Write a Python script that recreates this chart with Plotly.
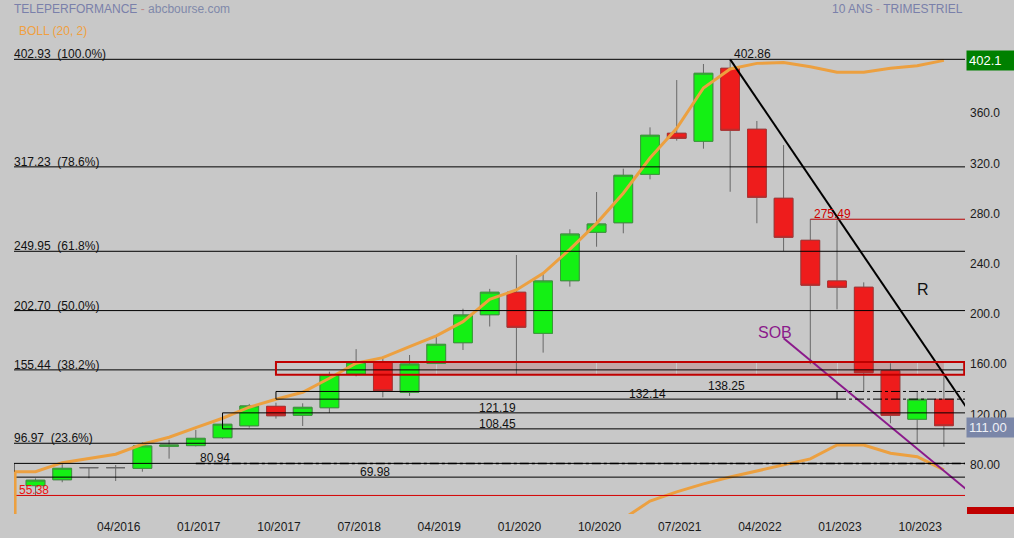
import plotly.graph_objects as go

# ---------------- data ----------------
quarters = ["07/2015", "10/2015", "01/2016", "04/2016", "07/2016", "10/2016",
            "01/2017", "04/2017", "07/2017", "10/2017", "01/2018", "04/2018",
            "07/2018", "10/2018", "01/2019", "04/2019", "07/2019", "10/2019",
            "01/2020", "04/2020", "07/2020", "10/2020", "01/2021", "04/2021",
            "07/2021", "10/2021", "01/2022", "04/2022", "07/2022", "10/2022",
            "01/2023", "04/2023", "07/2023", "10/2023", "01/2024"]

opens = [63.2, 67.9, 77.5, 77.5, 77.0, 94.6, 95.1, 101.4, 110.9, 126.4,
         119.3, 125.3, 152.2, 161.5, 137.6, 160.7, 177.1, 199.4, 217.3, 184.6,
         226.5, 265.1, 272.7, 311.3, 344.0, 337.6, 395.8, 347.2, 292.2, 258.7,
         226.3, 221.3, 154.8, 116.1, 132.0]
highs = [69.0, 81.0, 77.8, 79.6, 97.8, 99.6, 107.6, 114.7, 128.3, 129.3,
         128.8, 154.0, 172.0, 166.0, 167.3, 182.0, 204.2, 220.0, 247.0, 232.4,
         267.5, 297.2, 315.8, 348.7, 386.4, 399.2, 402.86, 353.8, 334.6, 275.49,
         274.5, 225.2, 160.7, 138.1, 151.4]
lows = [55.38, 65.9, 69.1, 66.9, 74.3, 84.7, 94.5, 100.6, 109.4, 116.6,
        110.7, 121.2, 150.3, 133.6, 134.7, 160.0, 171.3, 190.0, 152.2, 169.2,
        221.8, 253.6, 264.3, 307.3, 338.1, 331.7, 297.4, 272.3, 250.2, 160.0,
        203.7, 138.1, 112.9, 96.9, 94.3]
closes = [67.5, 77.0, 77.5, 77.5, 94.8, 95.5, 100.9, 112.1, 126.7, 118.9,
          125.6, 151.6, 161.5, 138.9, 160.1, 175.8, 199.2, 217.3, 189.4, 226.3,
          263.7, 271.7, 310.5, 342.4, 340.0, 391.8, 346.4, 293.0, 261.1, 222.9,
          221.3, 153.2, 119.3, 132.0, 111.0]

# Bollinger (20, 2) upper band, first value is the quarter before the window
boll_upper = [74.3, 74.3, 81.5, 84.9, 88.2, 96.2, 101.8, 109.4, 116.9, 125.7,
              132.0, 137.6, 148.8, 160.7, 165.2, 174.0, 182.5, 193.9, 211.7, 219.1,
              232.4, 251.5, 272.2, 296.2, 324.3, 347.9, 380.1, 395.2, 399.7, 400.4,
              397.0, 392.6, 392.6, 395.8, 397.8, 402.1]
# lower band (only the visible part, from 01/2021)
boll_lower_start = 22
boll_lower = [36.7, 50.9, 58.2, 64.6, 70.1, 75.0, 79.7, 84.5, 95.6, 95.6,
              89.0, 86.3, 75.7]

fib_levels = [402.93, 317.23, 249.95, 202.70, 155.44, 96.97]
fib_pcts = ["100.0%", "78.6%", "61.8%", "50.0%", "38.2%", "23.6%"]

low_mark = 55.38
high_mark = 402.86
res_mark = 275.49
zone_a = (69.98, 80.94)
zone_b = (108.45, 121.19)
zone_c = (132.14, 138.25)
red_zone = (151.6, 161.7)
last_price = 111.00
upper_tag = 402.1

# trend lines: (index, value) anchors
trend_R = [(26, 402.86), (34, 152.0)]
trend_SOB = [(28, 180.6), (34, 75.0)]

y_ticks = [80, 120, 160, 200, 240, 280, 320, 360]
y_ticktext = ["80.00", "120.00", "160.00", "200.0", "240.0", "280.0", "320.0", "360.0"]

# ---------------- layout helpers ----------------
W, H = 1014, 538
ML, MR, MT, MB = 14, 49, 0, 24
PW, PH = W - ML - MR, H - MT - MB
XMIN, XMAX = -0.805, 34.79
YMIN, YMAX = 40.6, 450.2
FONT = "Liberation Sans, Arial, sans-serif"
BG = "#c8c8c8"
ORANGE = "rgb(236,160,64)"


def px(xp):
    return (xp - ML) / PW


def py(yp):
    return (MT + PH - yp) / PH


x = list(range(len(quarters)))

fig = go.Figure()

# wicks (grey) + body
fig.add_trace(go.Candlestick(
    x=x, open=opens, high=highs, low=lows, close=closes,
    increasing=dict(line=dict(color="#686868", width=1), fillcolor="#14f014"),
    decreasing=dict(line=dict(color="#686868", width=1), fillcolor="#ee1c1c"),
    whiskerwidth=0, hoverinfo="skip"))

# coloured body outlines
b_open, b_close, b_hi, b_lo = [], [], [], []
for o, c in zip(opens, closes):
    if o == c:
        b_open.append(None); b_close.append(None); b_hi.append(None); b_lo.append(None)
    else:
        b_open.append(o); b_close.append(c); b_hi.append(max(o, c)); b_lo.append(min(o, c))
fig.add_trace(go.Candlestick(
    x=x, open=b_open, high=b_hi, low=b_lo, close=b_close,
    increasing=dict(line=dict(color="#3a9a3a", width=1), fillcolor="#14f014"),
    decreasing=dict(line=dict(color="#b03030", width=1), fillcolor="#ee1c1c"),
    whiskerwidth=0, hoverinfo="skip"))

# Bollinger bands
fig.add_trace(go.Scatter(x=[-1] + x, y=boll_upper, mode="lines",
                         line=dict(color=ORANGE, width=3), hoverinfo="skip"))
fig.add_trace(go.Scatter(x=list(range(boll_lower_start, boll_lower_start + len(boll_lower))),
                         y=boll_lower, mode="lines",
                         line=dict(color=ORANGE, width=3), hoverinfo="skip"))


def extend(p, xe):
    (x0, y0), (x1, y1) = p
    return [x0, xe], [y0, y0 + (y1 - y0) / (x1 - x0) * (xe - x0)]


rx, ry = extend(trend_R, 37)
fig.add_trace(go.Scatter(x=rx, y=ry, mode="lines", line=dict(color="black", width=2), hoverinfo="skip"))
sx, sy = extend(trend_SOB, 37)
fig.add_trace(go.Scatter(x=sx, y=sy, mode="lines", line=dict(color="#8b1a8b", width=2), hoverinfo="skip"))

shapes = []
# pink zone fill
shapes.append(dict(type="rect", xref="x", yref="y", x0=12, x1=34, y0=red_zone[0], y1=red_zone[1],
                   fillcolor="rgba(185,115,115,0.4)", line=dict(width=0), layer="below"))
# fib lines
for lv in fib_levels:
    shapes.append(dict(type="line", xref="paper", yref="y", x0=0, x1=1, y0=lv, y1=lv,
                       line=dict(color="black", width=1)))
# low mark line (red)
shapes.append(dict(type="line", xref="paper", yref="y", x0=0, x1=1, y0=low_mark, y1=low_mark,
                   line=dict(color="#d40000", width=1)))
# resistance 275.49
shapes.append(dict(type="line", xref="x", yref="y", x0=29, x1=37, y0=res_mark, y1=res_mark,
                   line=dict(color="#b80000", width=1)))
# zone boxes
shapes.append(dict(type="rect", xref="x", yref="y", x0=XMIN, x1=37, y0=zone_a[0], y1=zone_a[1],
                   line=dict(color="black", width=1)))
shapes.append(dict(type="line", xref="x", yref="y", x0=6, x1=37, y0=zone_a[1], y1=zone_a[1],
                   line=dict(color="black", width=1.5, dash="dashdot")))
shapes.append(dict(type="rect", xref="x", yref="y", x0=7, x1=37, y0=zone_b[0], y1=zone_b[1],
                   line=dict(color="black", width=1)))
shapes.append(dict(type="rect", xref="x", yref="y", x0=9, x1=30, y0=zone_c[0], y1=zone_c[1],
                   line=dict(color="black", width=1)))
for lv in zone_c:
    shapes.append(dict(type="line", xref="x", yref="y", x0=30, x1=37, y0=lv, y1=lv,
                       line=dict(color="black", width=1, dash="dashdot")))
shapes.append(dict(type="rect", xref="x", yref="y", x0=9, x1=XMAX - 0.03, y0=red_zone[0], y1=red_zone[1],
                   line=dict(color="#c00000", width=2)))
# band start at left edge
shapes.append(dict(type="line", xref="x", yref="y", x0=XMIN + 0.04, x1=XMIN + 0.04, y0=boll_upper[0], y1=YMIN,
                   line=dict(color=ORANGE, width=3)))
# red tag at bottom right (cut off)
shapes.append(dict(type="rect", xref="paper", yref="paper", x0=px(967), x1=px(1014), y0=py(514), y1=py(507),
                   fillcolor="#c00000", line=dict(width=0)))

ann = []


def text(xp, yp, s, color="#111111", size=12, xanchor="left", **kw):
    ann.append(dict(xref="paper", yref="paper", x=px(xp), y=py(yp), text=s, showarrow=False,
                    xanchor=xanchor, yanchor="middle", font=dict(family=FONT, size=size, color=color), **kw))


def label(xv, yv, s, color="#111111", xanchor="left", xshift=0):
    ann.append(dict(xref="x", yref="y", x=xv, y=yv, text=s, showarrow=False, xanchor=xanchor,
                    yanchor="bottom", xshift=xshift, yshift=-4,
                    font=dict(family=FONT, size=12, color=color)))


text(12, 9, "<span style='color:#7a80aa'>TELEPERFORMANCE</span><span style='color:#c08a8a'> - </span>"
            "<span style='color:#8088aa'>abcbourse.com</span>")
text(17, 31, "BOLL (20, 2)", color="#f0a040")
text(965, 9, "<span style='color:#7a80aa'>10 ANS </span><span style='color:#c08a8a'>-</span>"
             "<span style='color:#7a80aa'> TRIMESTRIEL</span>", xanchor="right")

for lv, pc in zip(fib_levels, fib_pcts):
    label(XMIN, lv, f"{lv:.2f}\u00a0 ({pc})", xshift=-2)

label(26, high_mark, f"{high_mark:.2f}", xshift=2)
label(29, res_mark, f"{res_mark:.2f}", color="#d00000", xshift=2)
label(XMIN, low_mark, f"{low_mark:.2f}", color="#ee1010", xshift=3)
label(6, zone_a[1], f"{zone_a[1]:.2f}", xshift=2)
label(12.7, zone_a[0], f"{zone_a[0]:.2f}", xanchor="center")
label(17.3, zone_b[1], f"{zone_b[1]:.2f}", xanchor="center")
label(17.3, zone_b[0], f"{zone_b[0]:.2f}", xanchor="center")
label(22.9, zone_c[0], f"{zone_c[0]:.2f}", xanchor="center")
label(25.85, zone_c[1], f"{zone_c[1]:.2f}", xanchor="center")

text(775, 333, "SOB", color="#8b1a8b", size=16, xanchor="center")
text(923, 289, "R", color="#111111", size=16, xanchor="center")

# price tags on the right axis
ann.append(dict(xref="paper", yref="y", x=1, y=upper_tag, text=f"{upper_tag:.1f}", showarrow=False,
                xanchor="left", yanchor="middle", xshift=1, bgcolor="#008000", width=44, align="left",
                borderpad=2, font=dict(family=FONT, size=13, color="white")))
ann.append(dict(xref="paper", yref="y", x=1, y=last_price, text=f"{last_price:.2f}", showarrow=False,
                xanchor="left", yanchor="middle", xshift=1, yshift=-2, bgcolor="#7a86a8", width=44,
                align="left", borderpad=2, font=dict(family=FONT, size=13, color="#eef0f6")))

fig.update_layout(
    width=W, height=H, margin=dict(l=ML, r=MR, t=MT, b=MB, pad=0),
    paper_bgcolor=BG, plot_bgcolor=BG, showlegend=False,
    boxgap=0.3, boxgroupgap=0,
    shapes=shapes, annotations=ann,
    font=dict(family=FONT, size=12, color="#111111"),
    xaxis=dict(range=[XMIN, XMAX], tickmode="array", tickvals=x[3::3], ticktext=quarters[3::3],
               showgrid=True, gridcolor=BG, gridwidth=1, zeroline=False, showline=False, ticks="",
               tickfont=dict(family=FONT, size=12, color="#1a1a1a"), ticklabelshift=3,
               ticklabelstandoff=4, rangeslider=dict(visible=False), fixedrange=True),
    yaxis=dict(range=[YMIN, YMAX], side="right", tickmode="array", tickvals=y_ticks, ticktext=y_ticktext,
               showgrid=False, zeroline=False, showline=False, ticks="", ticklabelstandoff=4,
               tickfont=dict(family=FONT, size=12, color="#1a1a1a"), fixedrange=True),
)

fig.write_html("out.html", config={"staticPlot": True},
               post_script="document.body.style.margin='0';document.body.style.background='#c8c8c8';")
